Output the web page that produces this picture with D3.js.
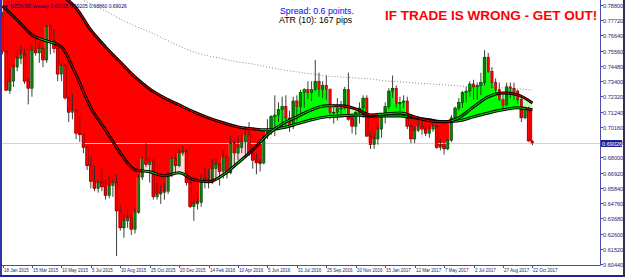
<!DOCTYPE html>
<html>
<head>
<meta charset="utf-8">
<script src="https://cdnjs.cloudflare.com/ajax/libs/d3/7.8.5/d3.min.js"></script>
<style>
  html, body { margin: 0; padding: 0; background: #fff; }
  svg { display: block; font-family: 'Liberation Sans', Arial, sans-serif; }
</style>
</head>
<body>
<div id="chart"></div>
<script>
// weekly NZDUSD bars, first bar = week of 18 Jan 2015
const WEEK = 7 * 864e5;
const startWeek = Date.UTC(2015, 0, 18);

const opens = [
  .7800,.7550,.7275,.7340,.7440,.7500,.7530,.7340,.7290,.7560,.7540,.7570,.7490,.7730,.7630,.7570,.7390,.7450,.7220,.7120,
  .7130,.6970,.6960,.6870,.6740,.6630,.6580,.6620,.6590,.6530,.6600,.6620,.6420,.6300,.6350,.6370,.6290,.6410,.6660,.6790,
  .6750,.6770,.6520,.6540,.6550,.6560,.6680,.6790,.6740,.6830,.6840,.6620,.6450,.6470,.6480,.6650,.6640,.6620,.6720,.6750,
  .6700,.6800,.6690,.6900,.6830,.6870,.6910,.6960,.6830,.6780,.6760,.6760,.6950,.7000,.7090,.7100,.7140,.7160,.7080,.7020,
  .7200,.7160,.7260,.7280,.7260,.7280,.7340,.7280,.7310,.7280,.7120,.7120,.7150,.7150,.7280,.7070,.7020,.7120,.7150,.7220,
  .6950,.6890,.6930,.7000,.7100,.7160,.7270,.7290,.7180,.7190,.7200,.7020,.6930,.6990,.7020,.7000,.6970,.7000,.7020,.6870,
  .6880,.6860,.6920,.7080,.7150,.7190,.7260,.7270,.7320,.7300,.7310,.7330,.7510,.7410,.7330,.7280,.7210,.7170,.7300,.7290,
  .7270,.7210,.7080,.7140,.69155
];
const highs = [
  .7830,.7560,.7430,.7460,.7550,.7590,.7570,.7360,.7590,.7660,.7610,.7580,.7740,.7740,.7710,.7580,.7470,.7460,.7230,.7250,
  .7140,.7090,.6960,.6880,.6800,.6740,.6640,.6720,.6640,.6670,.6640,.6680,.6460,.6400,.6430,.6400,.6440,.6680,.6800,.6900,
  .6800,.6790,.6620,.6600,.6620,.6700,.6800,.6830,.6860,.6880,.6860,.6660,.6520,.6560,.6680,.6730,.6720,.6790,.6790,.6760,
  .6850,.6820,.6950,.6920,.6950,.6960,.7020,.7050,.6870,.6830,.6790,.6960,.7070,.7100,.7240,.7190,.7230,.7240,.7130,.7230,
  .7240,.7280,.7290,.7340,.7340,.7490,.7400,.7340,.7380,.7290,.7180,.7220,.7200,.7300,.7400,.7110,.7130,.7190,.7240,.7240,
  .6980,.6960,.7030,.7110,.7190,.7290,.7380,.7310,.7230,.7240,.7230,.7040,.7020,.7080,.7060,.7030,.7030,.7060,.7030,.6930,
  .6900,.6930,.7100,.7160,.7220,.7270,.7300,.7340,.7350,.7330,.7400,.7560,.7540,.7440,.7360,.7330,.7250,.7330,.7330,.7330,
  .7280,.7230,.7160,.7160,.69205
];
const lows = [
  .7530,.7270,.7250,.7300,.7410,.7460,.7320,.7175,.7230,.7520,.7470,.7440,.7470,.7530,.7540,.7340,.7340,.7210,.7050,.7070,
  .6930,.6910,.6830,.6710,.6580,.6560,.6550,.6560,.6500,.6510,.6520,.6100,.6280,.6230,.6300,.6250,.6260,.6400,.6640,.6730,
  .6620,.6500,.6500,.6470,.6500,.6540,.6660,.6690,.6730,.6810,.6600,.6440,.6350,.6430,.6450,.6580,.6580,.6610,.6640,.6600,
  .6650,.6650,.6680,.6730,.6780,.6830,.6820,.6810,.6720,.6680,.6700,.6750,.6930,.6960,.6950,.7050,.7010,.7020,.6980,.7000,
  .7060,.7110,.7150,.7210,.7200,.7270,.7230,.7220,.7210,.7070,.7040,.7060,.7100,.7140,.7060,.6970,.6960,.7040,.7080,.6950,
  .6860,.6860,.6890,.6940,.7040,.7140,.7220,.7150,.7130,.7150,.7000,.6900,.6900,.6980,.6960,.6950,.6940,.6980,.6860,.6850,
  .6820,.6850,.6910,.7050,.7130,.7150,.7190,.7230,.7210,.7210,.7240,.7310,.7400,.7290,.7250,.7200,.7150,.7170,.7220,.7210,
  .7180,.7050,.7070,.6910,.68860
];
const closes = [
  .7550,.7275,.7340,.7440,.7500,.7530,.7340,.7290,.7560,.7540,.7570,.7490,.7730,.7630,.7570,.7390,.7450,.7220,.7120,.7130,
  .6970,.6960,.6870,.6740,.6630,.6580,.6620,.6590,.6530,.6600,.6620,.6420,.6300,.6350,.6370,.6290,.6410,.6660,.6790,.6750,
  .6770,.6520,.6540,.6550,.6560,.6680,.6790,.6740,.6830,.6840,.6620,.6450,.6470,.6480,.6650,.6640,.6620,.6720,.6750,.6700,
  .6800,.6690,.6900,.6830,.6870,.6910,.6960,.6830,.6780,.6760,.6760,.6950,.7000,.7090,.7100,.7140,.7160,.7080,.7020,.7200,
  .7160,.7260,.7280,.7260,.7280,.7340,.7280,.7310,.7280,.7120,.7120,.7150,.7150,.7280,.7070,.7020,.7120,.7150,.7220,.6950,
  .6890,.6930,.7000,.7100,.7160,.7270,.7290,.7180,.7190,.7200,.7020,.6930,.6990,.7020,.7000,.6970,.7000,.7020,.6870,.6880,
  .6860,.6920,.7080,.7150,.7190,.7260,.7270,.7320,.7300,.7310,.7330,.7510,.7410,.7330,.7280,.7210,.7170,.7300,.7290,.7270,
  .7210,.7080,.7140,.6916,.69026
];

// moving averages every 4 bars
const maBars = [0,4,8,12,16,20,24,28,32,36,40,44,48,52,56,60,64,68,72,76,80,84,88,92,96,100,104,108,112,116,120,124,128,132,136,140,144];
const fastMA = [
  .7873,.7774,.7668,.7625,.7583,.7384,.7151,.6995,.6832,.6712,.6698,.6669,.6691,.6641,.6627,.6676,.6761,.6853,.6960,
  .7037,.7087,.7137,.7165,.7165,.7144,.7101,.7108,.7115,.7087,.7059,.7052,.7080,.7158,.7229,.7257,.7243,.7186
];
const slowMA = [
  .8180,.8140,.8080,.8010,.7950,.7859,.7703,.7583,.7476,.7370,.7285,.7222,.7172,.7122,.7080,.7045,.7016,.7002,.6995,
  .7009,.7037,.7066,.7087,.7094,.7101,.7094,.7094,.7094,.7080,.7066,.7052,.7059,.7087,.7115,.7137,.7151,.7137
];
const longMA = [
  .8300,.8250,.8180,.8080,.8000,.7940,.7887,.7838,.7781,.7731,.7689,.7639,.7590,.7547,.7519,.7498,.7476,.7462,.7441,
  .7420,.7406,.7391,.7377,.7370,.7363,.7356,.7342,.7335,.7328,.7321,.7314,.7307,.7299,.7299,.7292,.7285,.7278
];

const priceTicks = [.78800,.77720,.76640,.75560,.74480,.73400,.72320,.71240,.70160,.69080,.68000,.66920,.65840,.64760,.63680,.62600,.61520,.60440];
const dateTicks = ['2015-01-18','2015-03-15','2015-05-10','2015-07-05','2015-08-30','2015-10-25','2015-12-20','2016-02-14','2016-04-10',
  '2016-06-05','2016-07-31','2016-09-25','2016-11-20','2017-01-15','2017-03-12','2017-05-07','2017-07-02','2017-08-27','2017-10-22'];
const lastPrice = 0.69026;
const header = 'NZDUSD,Weekly  0.69155 0.69205 0.68860 0.69026';

const width = 625;
const height = 277;
const plotRight = 600;
const plotBottom = 265;

const svg = d3.select('#chart').append('svg')
    .attr('width', width)
    .attr('height', height);

const x = d3.scaleUtc()
    .domain([new Date(startWeek), new Date(startWeek + 144 * WEEK)])
    .range([2.5, 532.4]);
const y = d3.scaleLinear()
    .domain([0.788, 0.6044])
    .range([5, 264]);
const barX = (i) => x(new Date(startWeek + i * WEEK));

const maPoints = (vals) => maBars.map((b, k) => [barX(b), y(vals[k])]);
const closePoints = closes.map((c, i) => [barX(i), y(c)]);

const areaBelow = d3.area().x(d => d[0]).y0(d => d[1]).y1(400);
const areaAbove = d3.area().x(d => d[0]).y0(-100).y1(d => d[1]);
const smoothLine = d3.line().x(d => d[0]).y(d => d[1]).curve(d3.curveMonotoneX);

const defs = svg.append('defs');
defs.append('clipPath').attr('id', 'plot')
    .append('rect').attr('x', 2).attr('y', 0).attr('width', plotRight - 2).attr('height', plotBottom);
defs.append('clipPath').attr('id', 'belowSlow')
    .append('path').attr('d', areaBelow.curve(d3.curveMonotoneX)(maPoints(slowMA)));
defs.append('clipPath').attr('id', 'aboveSlow')
    .append('path').attr('d', areaAbove.curve(d3.curveMonotoneX)(maPoints(slowMA)));

const plot = svg.append('g').attr('clip-path', 'url(#plot)');

// band between the two averages
plot.append('g').attr('clip-path', 'url(#belowSlow)')
    .append('path')
    .attr('d', areaAbove.curve(d3.curveMonotoneX)(maPoints(fastMA)))
    .attr('fill', '#ffdcdc');
plot.append('g').attr('clip-path', 'url(#aboveSlow)')
    .append('path')
    .attr('d', areaBelow.curve(d3.curveMonotoneX)(maPoints(fastMA)))
    .attr('fill', '#b8ffb8');

// price vs slow average
plot.append('g').attr('clip-path', 'url(#belowSlow)')
    .append('path')
    .attr('d', areaAbove.curve(d3.curveStep)(closePoints))
    .attr('fill', '#ff0000');
plot.append('g').attr('clip-path', 'url(#aboveSlow)')
    .append('path')
    .attr('d', areaBelow.curve(d3.curveStep)(closePoints))
    .attr('fill', '#00ff00');

// current price line
plot.append('line')
    .attr('x1', 2).attr('x2', plotRight)
    .attr('y1', Math.round(y(lastPrice)) + 0.5).attr('y2', Math.round(y(lastPrice)) + 0.5)
    .attr('stroke', '#d4d4d4');

// long average, dotted
plot.append('path')
    .attr('d', smoothLine(maPoints(longMA)))
    .attr('fill', 'none')
    .attr('stroke', '#8c8c8c')
    .attr('stroke-width', 1)
    .attr('stroke-dasharray', '1,2');

// candles
const candles = plot.append('g').selectAll('g')
    .data(closes.map((c, i) => ({ i, o: opens[i], h: highs[i], l: lows[i], c })))
    .enter()
    .append('g');
candles.append('line')
    .attr('x1', d => barX(d.i)).attr('x2', d => barX(d.i))
    .attr('y1', d => y(d.h)).attr('y2', d => y(d.l))
    .attr('stroke', '#2a2a2a')
    .attr('stroke-width', 0.9);
candles.append('rect')
    .attr('x', d => barX(d.i) - 1.2)
    .attr('width', 2.4)
    .attr('y', d => y(Math.max(d.o, d.c)))
    .attr('height', d => Math.max(0.8, Math.abs(y(d.o) - y(d.c))))
    .attr('fill', d => d.c >= d.o ? '#0b7d0b' : '#ff0000')
    .attr('stroke', d => d.c >= d.o ? '#003a00' : '#6a0000')
    .attr('stroke-width', 0.5);

// averages: black line with coloured core
function drawMA(vals, id) {
    const pts = maPoints(vals);
    const x0 = pts[0][0];
    const x1 = pts[pts.length - 1][0];
    const grad = defs.append('linearGradient')
        .attr('id', id)
        .attr('gradientUnits', 'userSpaceOnUse')
        .attr('x1', x0).attr('x2', x1).attr('y1', 0).attr('y2', 0);
    pts.forEach((p, k) => {
        const col = closes[maBars[k]] >= vals[k] ? '#00ff00' : '#ff0000';
        const a = k === 0 ? x0 : (pts[k - 1][0] + p[0]) / 2;
        const b = k === pts.length - 1 ? x1 : (pts[k + 1][0] + p[0]) / 2;
        grad.append('stop').attr('offset', (a - x0) / (x1 - x0)).attr('stop-color', col);
        grad.append('stop').attr('offset', (b - x0) / (x1 - x0)).attr('stop-color', col);
    });
    plot.append('path')
        .attr('d', smoothLine(pts))
        .attr('fill', 'none')
        .attr('stroke', '#000')
        .attr('stroke-width', 3);
    plot.append('path')
        .attr('d', smoothLine(pts))
        .attr('fill', 'none')
        .attr('stroke', `url(#${id})`)
        .attr('stroke-width', 0.9);
}
drawMA(slowMA, 'gradSlow');
drawMA(fastMA, 'gradFast');

// frame
const axisColor = '#4b4bb0';
svg.append('line').attr('x1', 1).attr('x2', 1).attr('y1', 0).attr('y2', height)
    .attr('stroke', '#3434a8').attr('stroke-width', 2);
svg.append('line').attr('x1', 2).attr('x2', plotRight + 0.5).attr('y1', plotBottom + 0.5).attr('y2', plotBottom + 0.5)
    .attr('stroke', axisColor);
svg.append('line').attr('x1', plotRight + 0.5).attr('x2', plotRight + 0.5).attr('y1', 0).attr('y2', plotBottom + 0.5)
    .attr('stroke', axisColor);
svg.append('line').attr('x1', 0).attr('x2', width).attr('y1', 276).attr('y2', 276)
    .attr('stroke', '#24248c').attr('stroke-width', 2);
svg.append('line').attr('x1', 624).attr('x2', 624).attr('y1', 0).attr('y2', height)
    .attr('stroke', '#303050').attr('stroke-width', 2);

// price axis
const priceAxis = svg.append('g');
priceTicks.forEach((p) => {
    const py = Math.round(y(p)) + 0.5;
    priceAxis.append('line')
        .attr('x1', plotRight).attr('x2', plotRight + 3)
        .attr('y1', py).attr('y2', py)
        .attr('stroke', axisColor);
    priceAxis.append('text')
        .attr('x', plotRight + 3)
        .attr('y', py + 2)
        .attr('font-size', 5.6)
        .attr('fill', '#24246e')
        .text(p.toFixed(5));
});
const lastY = Math.round(y(lastPrice)) + 0.5;
priceAxis.append('rect')
    .attr('x', plotRight + 1).attr('y', lastY - 3.5)
    .attr('width', 21).attr('height', 7)
    .attr('fill', '#20208c');
priceAxis.append('text')
    .attr('x', plotRight + 2)
    .attr('y', lastY + 2)
    .attr('font-size', 5.6)
    .attr('fill', '#fff')
    .text(lastPrice.toFixed(5));

// time axis
const fmt = d3.utcFormat('%-d %b %Y');
const timeAxis = svg.append('g');
dateTicks.forEach((s) => {
    const d = new Date(s + 'T00:00:00Z');
    const tx = Math.round(x(d)) + 0.5;
    timeAxis.append('line')
        .attr('x1', tx).attr('x2', tx)
        .attr('y1', plotBottom).attr('y2', plotBottom + 3)
        .attr('stroke', axisColor);
    timeAxis.append('text')
        .attr('x', tx + 0.5)
        .attr('y', 271.5)
        .attr('font-size', 4.5)
        .attr('fill', '#24246e')
        .text(fmt(d));
});

// texts
svg.append('text')
    .attr('x', 4).attr('y', 8)
    .attr('font-size', 5)
    .attr('fill', '#000080')
    .text('\u25BC ' + header);
svg.append('text')
    .attr('x', 280).attr('y', 14)
    .attr('font-size', 8.8)
    .attr('fill', '#0000ff')
    .text('Spread: 0.6 points.');
svg.append('text')
    .attr('x', 279).attr('y', 23)
    .attr('font-size', 8.8)
    .attr('fill', '#000')
    .text('ATR (10): 167 pips');
svg.append('text')
    .attr('x', 385).attr('y', 19.5)
    .attr('font-size', 13.5)
    .attr('font-weight', 'bold')
    .attr('fill', '#ff0000')
    .text('IF TRADE IS WRONG - GET OUT!');
</script>
</body>
</html>
